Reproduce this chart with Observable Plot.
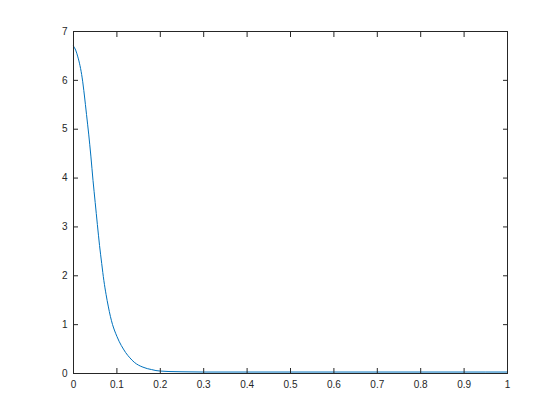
<!DOCTYPE html>
<html>
<head>
<meta charset="utf-8">
<script src="https://cdn.jsdelivr.net/npm/d3@7"></script>
<script src="https://cdn.jsdelivr.net/npm/@observablehq/plot@0.6"></script>
<style>
  html, body { margin: 0; padding: 0; background: #fff; }
</style>
</head>
<body>
<div id="chart"></div>
<script>
const xs = [0, 0.005, 0.01, 0.015, 0.02, 0.025, 0.03, 0.035, 0.04, 0.045, 0.05, 0.055, 0.06, 0.065, 0.07, 0.075, 0.08, 0.085, 0.09, 0.095, 0.10, 0.105, 0.11, 0.115, 0.12, 0.13, 0.14, 0.15, 0.16, 0.17, 0.18, 0.19, 0.20, 0.22, 0.25, 0.30, 0.40, 0.50, 0.60, 0.70, 0.80, 0.90, 1.00];
const ys = [6.70, 6.62, 6.48, 6.30, 6.05, 5.70, 5.30, 4.90, 4.45, 3.95, 3.50, 3.05, 2.62, 2.25, 1.90, 1.62, 1.38, 1.17, 1.00, 0.87, 0.76, 0.66, 0.575, 0.50, 0.43, 0.32, 0.23, 0.17, 0.13, 0.10, 0.08, 0.06, 0.05, 0.04, 0.035, 0.03, 0.03, 0.03, 0.03, 0.03, 0.03, 0.03, 0.03];
const xTicks = [0, 0.1, 0.2, 0.3, 0.4, 0.5, 0.6, 0.7, 0.8, 0.9, 1];
const xTickLabels = ["0", "0.1", "0.2", "0.3", "0.4", "0.5", "0.6", "0.7", "0.8", "0.9", "1"];
const yTicks = [0, 1, 2, 3, 4, 5, 6, 7];
const yTickLabels = ["0", "1", "2", "3", "4", "5", "6", "7"];

const data = xs.map((x, i) => ({x, y: ys[i]}));
const axisColor = "#262626";

const chart = Plot.plot({
  width: 560,
  height: 420,
  marginLeft: 73,
  marginRight: 53,
  marginTop: 31,
  marginBottom: 47,
  style: {fontFamily: "'Liberation Sans', Arial, sans-serif", fontSize: "10px", color: axisColor, background: "#fff"},
  x: {domain: [0, 1]},
  y: {domain: [0, 7]},
  marks: [
    Plot.line(data, {x: "x", y: "y", stroke: "#0072BD", strokeWidth: 1, curve: "monotone-x"}),
    Plot.frame({stroke: axisColor, strokeWidth: 1}),
    Plot.axisX({anchor: "bottom", ticks: xTicks, tickSize: 0, tickPadding: 7, tickFormat: (d, i) => xTickLabels[i], label: null, fill: axisColor}),
    Plot.axisY({anchor: "left", ticks: yTicks, tickSize: 0, tickPadding: 6, tickFormat: (d, i) => yTickLabels[i], label: null, fill: axisColor}),
    Plot.axisX({anchor: "bottom", ticks: xTicks, tickSize: -5, tickFormat: () => "", label: null, stroke: axisColor}),
    Plot.axisX({anchor: "top", ticks: xTicks, tickSize: -5, tickFormat: () => "", label: null, stroke: axisColor}),
    Plot.axisY({anchor: "left", ticks: yTicks, tickSize: -5, tickFormat: () => "", label: null, stroke: axisColor}),
    Plot.axisY({anchor: "right", ticks: yTicks, tickSize: -5, tickFormat: () => "", label: null, stroke: axisColor})
  ]
});
document.getElementById("chart").appendChild(chart);
</script>
</body>
</html>
